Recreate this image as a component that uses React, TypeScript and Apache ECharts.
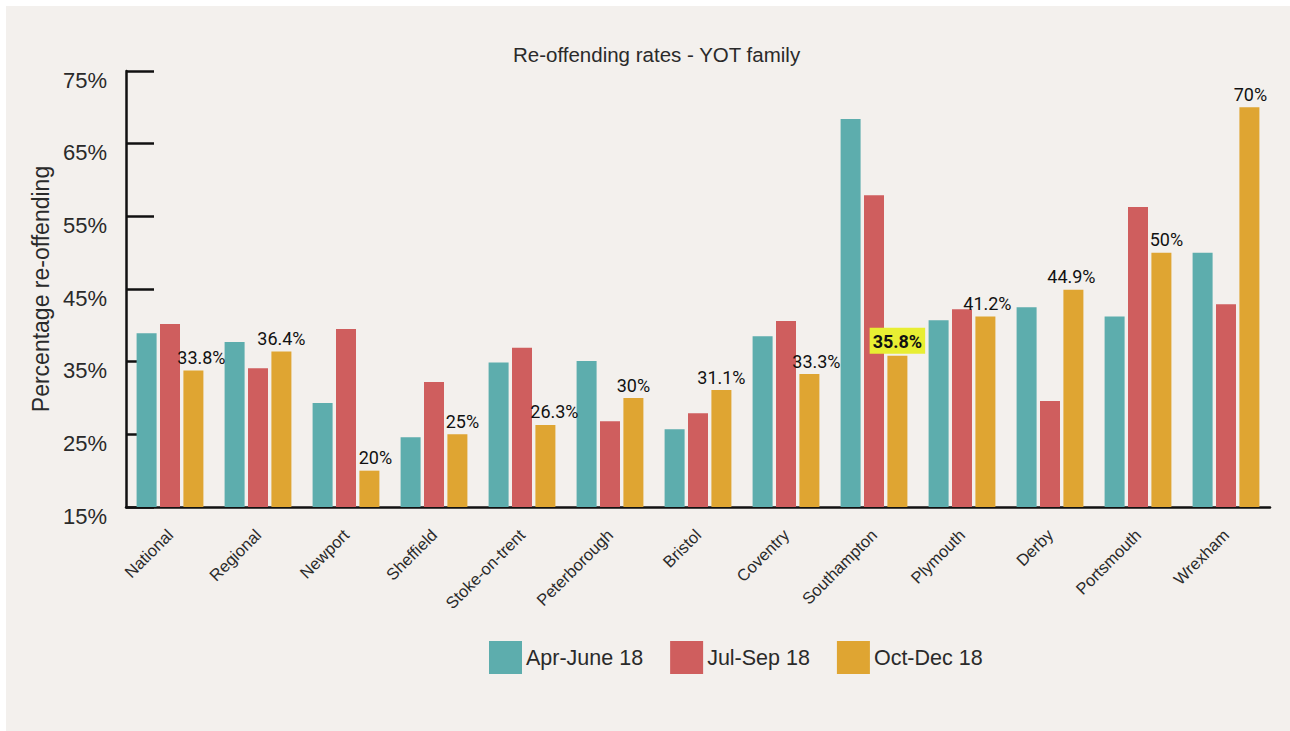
import React, { useEffect, useRef } from "react";
import * as echarts from "echarts";

const categories = [
  "National", "Regional", "Newport", "Sheffield", "Stoke-on-trent", "Peterborough",
  "Bristol", "Coventry", "Southampton", "Plymouth", "Derby", "Portsmouth", "Wrexham",
];
const seriesNames = ["Apr-June 18", "Jul-Sep 18", "Oct-Dec 18"];
const aprJune = [38.9, 37.7, 29.3, 24.6, 34.9, 35.1, 25.7, 38.5, 68.4, 40.7, 42.5, 41.2, 50];
const julSep = [40.2, 34.1, 39.5, 32.2, 36.9, 26.8, 27.9, 40.6, 57.9, 42.2, 29.6, 56.3, 42.9];
const octDec = [33.8, 36.4, 20, 25, 26.3, 30, 31.1, 33.3, 35.8, 41.2, 44.9, 50, 70];
const highlightIndex = 8;
const yTicks = { min: 15, max: 75, interval: 10 };
// small horizontal nudges of the value labels, as placed in the original
const labelNudge = [8, 0, 6, 5, 9, 0, 0, 7, 0, 2, -2, 5, 1];

const FONT = "'Liberation Sans', Arial, Helvetica, sans-serif";
const LABEL_FONT = "Roboto, 'Liberation Sans', sans-serif";
const COLORS = ["#5dadad", "#cf5e5e", "#dfa532"];
const TEXT = "#2a2a2a";

export default function App() {
  const ref = useRef<HTMLDivElement>(null);
  useEffect(() => {
    if (!ref.current) return;
    const chart = echarts.init(ref.current, undefined, { renderer: "svg" });
    const axisColor = "#111";
    chart.setOption({
      animation: false,
      backgroundColor: "#f3f0ed",
      title: {
        text: "Re-offending rates - YOT family",
        left: 502,
        top: 33,
        textStyle: { fontFamily: FONT, fontWeight: "normal", fontSize: 20.5, color: TEXT },
      },
      legend: {
        data: seriesNames,
        left: 478,
        top: 630,
        icon: "rect",
        itemWidth: 33,
        itemHeight: 33,
        itemGap: 27,
        textStyle: { fontFamily: FONT, fontSize: 21.5, color: TEXT, padding: [0, 0, 0, -1] },
      },
      grid: { left: 120, right: 20, top: 65, bottom: 224, containLabel: false },
      xAxis: {
        type: "category",
        data: categories,
        axisLine: { lineStyle: { color: axisColor, width: 2.5 } },
        axisTick: { inside: true, length: 11, lineStyle: { color: axisColor, width: 2.5 } },
        axisLabel: {
          rotate: 45,
          interval: 0,
          margin: 25,
          fontFamily: FONT,
          fontSize: 16.5,
          color: TEXT,
        },
      },
      yAxis: {
        type: "value",
        min: yTicks.min,
        max: yTicks.max,
        interval: yTicks.interval,
        name: "Percentage re-offending",
        nameLocation: "middle",
        nameGap: 74,
        nameTextStyle: { fontFamily: FONT, fontSize: 23, color: TEXT },
        axisLine: { show: true, lineStyle: { color: axisColor, width: 2.5 } },
        axisTick: { show: true, inside: true, length: 28, lineStyle: { color: axisColor, width: 2.5 } },
        splitLine: { show: false },
        axisLabel: {
          formatter: "{value}%",
          margin: 19,
          verticalAlign: "top",
          lineHeight: 18,
          fontFamily: FONT,
          fontSize: 22,
          color: TEXT,
        },
      },
      series: [
        { name: seriesNames[0], type: "bar", data: aprJune, barWidth: 20, barGap: "17%", itemStyle: { color: COLORS[0] } },
        { name: seriesNames[1], type: "bar", data: julSep, barWidth: 20, barGap: "17%", itemStyle: { color: COLORS[1] } },
        {
          name: seriesNames[2],
          type: "bar",
          barWidth: 20,
          barGap: "17%",
          itemStyle: { color: COLORS[2] },
          data: octDec.map((v, i) =>
            i === highlightIndex
              ? {
                  value: v,
                  label: {
                    fontWeight: "bold",
                    backgroundColor: "#e8ee33",
                    padding: [5, 3, 3, 3],
                    distance: 2,
                    offset: [labelNudge[i], 0],
                  },
                }
              : { value: v, label: { offset: [labelNudge[i], 0] } }
          ),
          label: {
            show: true,
            position: "top",
            distance: 4,
            formatter: (p: any) => `${p.value}%`,
            fontFamily: LABEL_FONT,
            fontSize: 18,
            color: "#111",
          },
        },
      ],
    });
    return () => chart.dispose();
  }, []);
  return (
    <div
      ref={ref}
      style={{ position: "absolute", left: 6, top: 6, width: 1284, height: 725 }}
    />
  );
}
